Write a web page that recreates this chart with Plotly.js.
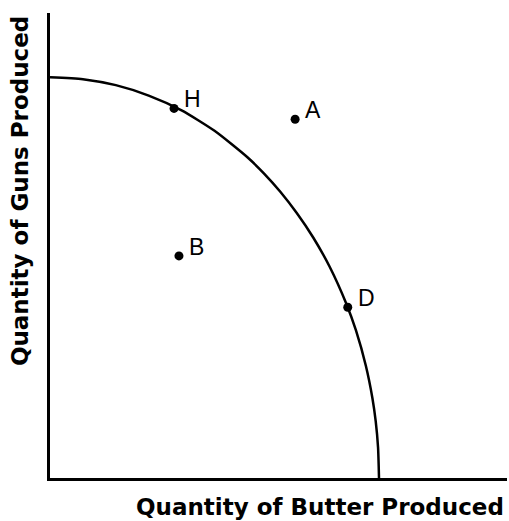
<!DOCTYPE html>
<html>
<head>
<meta charset="utf-8">
<script src="https://cdn.plot.ly/plotly-3.0.1.min.js"></script>
<style>
html,body{margin:0;padding:0;background:#fff;}
#chart{width:509px;height:521px;}
</style>
</head>
<body>
<div id="chart"></div>
<script>
// Production possibilities frontier (butter = x, guns = y)
const curveButter = [0, 1, 2, 3, 4, 5, 6, 6.5, 7, 7.5, 8, 8.5, 9, 9.3, 9.6, 9.8, 9.9, 9.97, 10];
const curveGuns   = [10, 9.95, 9.8, 9.54, 9.17, 8.66, 8.0, 7.6, 7.14, 6.61, 6.0, 5.27, 4.36, 3.68, 2.8, 1.99, 1.41, 0.77, 0];

// Labelled points
const pointLabels = ["H", "A", "B", "D"];
const pointButter = [3.77, 7.45, 3.92, 9.05];
const pointGuns   = [9.22, 8.95, 5.54, 4.26];

const xTitle = "Quantity of Butter Produced";
const yTitle = "Quantity of Guns Produced";

const traces = [
  {
    x: curveButter, y: curveGuns, type: "scatter", mode: "lines",
    line: {color: "#000", width: 2.5, shape: "spline", smoothing: 0.6},
    hoverinfo: "skip"
  },
  {
    x: pointButter, y: pointGuns, type: "scatter", mode: "markers",
    marker: {color: "#000", size: 9},
    hoverinfo: "skip"
  }
];

const annotations = pointLabels.map((t, i) => ({
  x: pointButter[i], y: pointGuns[i], xref: "x", yref: "y",
  text: t, showarrow: false, xanchor: "left", yanchor: "middle",
  xshift: 8, yshift: 9,
  font: {family: "Liberation Sans, Arial, sans-serif", size: 23, color: "#000"}
}));

annotations.push({
  xref: "paper", yref: "paper", x: 0.591, y: -0.062,
  text: "<b>" + xTitle + "</b>", showarrow: false,
  xanchor: "center", yanchor: "middle",
  font: {family: "DejaVu Sans, sans-serif", size: 23, color: "#000"}
});
annotations.push({
  xref: "paper", yref: "paper", x: -0.0656, y: 0.617,
  text: "<b>" + yTitle + "</b>", showarrow: false, textangle: -90,
  xanchor: "center", yanchor: "middle",
  font: {family: "DejaVu Sans, sans-serif", size: 23, color: "#000"}
});

const layout = {
  width: 509, height: 521,
  margin: {l: 50, r: 2, t: 13, b: 43},
  paper_bgcolor: "#fff", plot_bgcolor: "#fff",
  showlegend: false,
  xaxis: {
    range: [0, 13.89], showgrid: false, zeroline: false,
    showticklabels: false, ticks: "", showline: true,
    linecolor: "#000", linewidth: 3, fixedrange: true
  },
  yaxis: {
    range: [0, 11.6], showgrid: false, zeroline: false,
    showticklabels: false, ticks: "", showline: true,
    linecolor: "#000", linewidth: 3, fixedrange: true
  },
  annotations: annotations
};

Plotly.newPlot("chart", traces, layout, {staticPlot: true, displayModeBar: false});
</script>
</body>
</html>
